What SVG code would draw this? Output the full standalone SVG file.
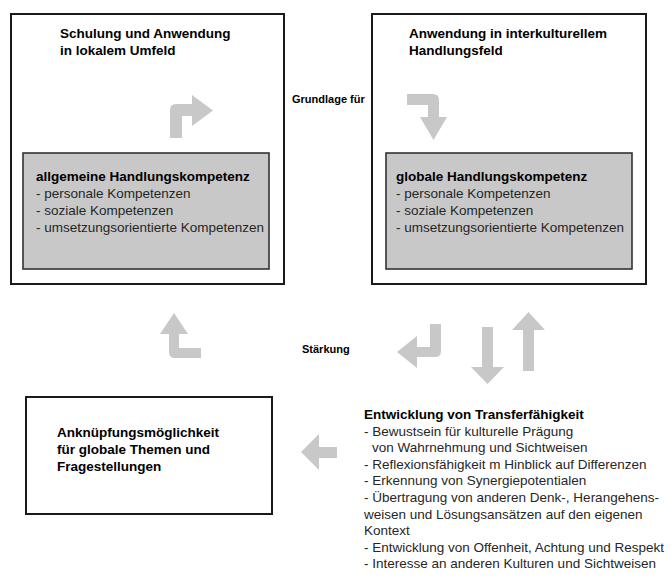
<svg xmlns="http://www.w3.org/2000/svg" width="672" height="579" viewBox="0 0 672 579">
<style>
.box{fill:#fff;stroke:#1a1a1a;stroke-width:2}
.inner{fill:#c8c8c8;stroke:#333;stroke-width:1.6}
.arrow{fill:#c8c8c8;stroke:none}
.t{font-family:"Liberation Sans",Arial,Helvetica,sans-serif;font-size:13.5px;fill:#262626}
.b{font-weight:bold;fill:#000}
.lbl{font-family:"Liberation Sans",Arial,Helvetica,sans-serif;font-size:11px;font-weight:bold;fill:#000}
</style>
<rect width="672" height="579" fill="#fff"/>
<g id="lokal">
<rect class="box" x="11" y="14" width="273" height="270"/>
<text class="t b" x="60" y="38">Schulung und Anwendung</text>
<text class="t b" x="60" y="55">in lokalem Umfeld</text>
</g>
<g id="allgemein">
<rect class="inner" x="23" y="153" width="246" height="116"/>
<text class="t b" x="36" y="181">allgemeine Handlungskompetenz</text>
<text class="t" x="36" y="198">- personale Kompetenzen</text>
<text class="t" x="36" y="215">- soziale Kompetenzen</text>
<text class="t" x="36" y="232">- umsetzungsorientierte Kompetenzen</text>
</g>
<g id="interkulturell">
<rect class="box" x="372" y="14" width="274" height="270"/>
<text class="t b" x="409" y="38">Anwendung in interkulturellem</text>
<text class="t b" x="409" y="55">Handlungsfeld</text>
</g>
<g id="global">
<rect class="inner" x="386" y="153" width="246" height="116"/>
<text class="t b" x="396" y="181">globale Handlungskompetenz</text>
<text class="t" x="396" y="198">- personale Kompetenzen</text>
<text class="t" x="396" y="215">- soziale Kompetenzen</text>
<text class="t" x="396" y="232">- umsetzungsorientierte Kompetenzen</text>
</g>
<g id="anknuepfung">
<rect class="box" x="26" y="397" width="246" height="117"/>
<text class="t b" x="57" y="437">Anknüpfungsmöglichkeit</text>
<text class="t b" x="57" y="454">für globale Themen und</text>
<text class="t b" x="57" y="471">Fragestellungen</text>
</g>
<g id="transfer">
<text class="t b" x="364" y="419">Entwicklung von Transferfähigkeit</text>
<text class="t" x="364" y="435.6">- Bewustsein für kulturelle Prägung</text>
<text class="t" x="372" y="452.2">von Wahrnehmung und Sichtweisen</text>
<text class="t" x="364" y="468.8">- Reflexionsfähigkeit m Hinblick auf Differenzen</text>
<text class="t" x="364" y="485.4">- Erkennung von Synergiepotentialen</text>
<text class="t" x="364" y="502">- Übertragung von anderen Denk-, Herangehens-</text>
<text class="t" x="364" y="518.6">weisen und Lösungsansätzen auf den eigenen</text>
<text class="t" x="364" y="535.2">Kontext</text>
<text class="t" x="364" y="551.8">- Entwicklung von Offenheit, Achtung und Respekt</text>
<text class="t" x="364" y="568.4">- Interesse an anderen Kulturen und Sichtweisen</text>
</g>
<g id="connectors">
<path class="arrow" d="M170,138 V110 Q170,104 176,104 H192 V95 L213,110.5 L192,126 V116 H182 V138 Z"/>
<path class="arrow" d="M407,94 H433 Q439,94 439,100 V117 H447 L433.5,140 L420,117 H428 V105 H407 Z"/>
<path class="arrow" d="M174,313 L188,334 H179 V348 H201 V358 H175 Q169,358 169,352 V334 H160 Z"/>
<path class="arrow" d="M430,324 H441 V351 Q441,357 435,357 H417 V368 L397,352 L417,336 V347 H430 Z"/>
<path class="arrow" d="M482,327 H493 V367 H504 L487.5,384 L471,367 H482 Z"/>
<path class="arrow" d="M523,371 V330 H512 L528.5,312 L545,330 H534 V371 Z"/>
<path class="arrow" d="M301,452 L319,434 V447 H337 V458 H319 V470 Z"/>
<text class="lbl" x="292" y="103">Grundlage für</text>
<text class="lbl" x="302" y="353">Stärkung</text>
</g>
</svg>
